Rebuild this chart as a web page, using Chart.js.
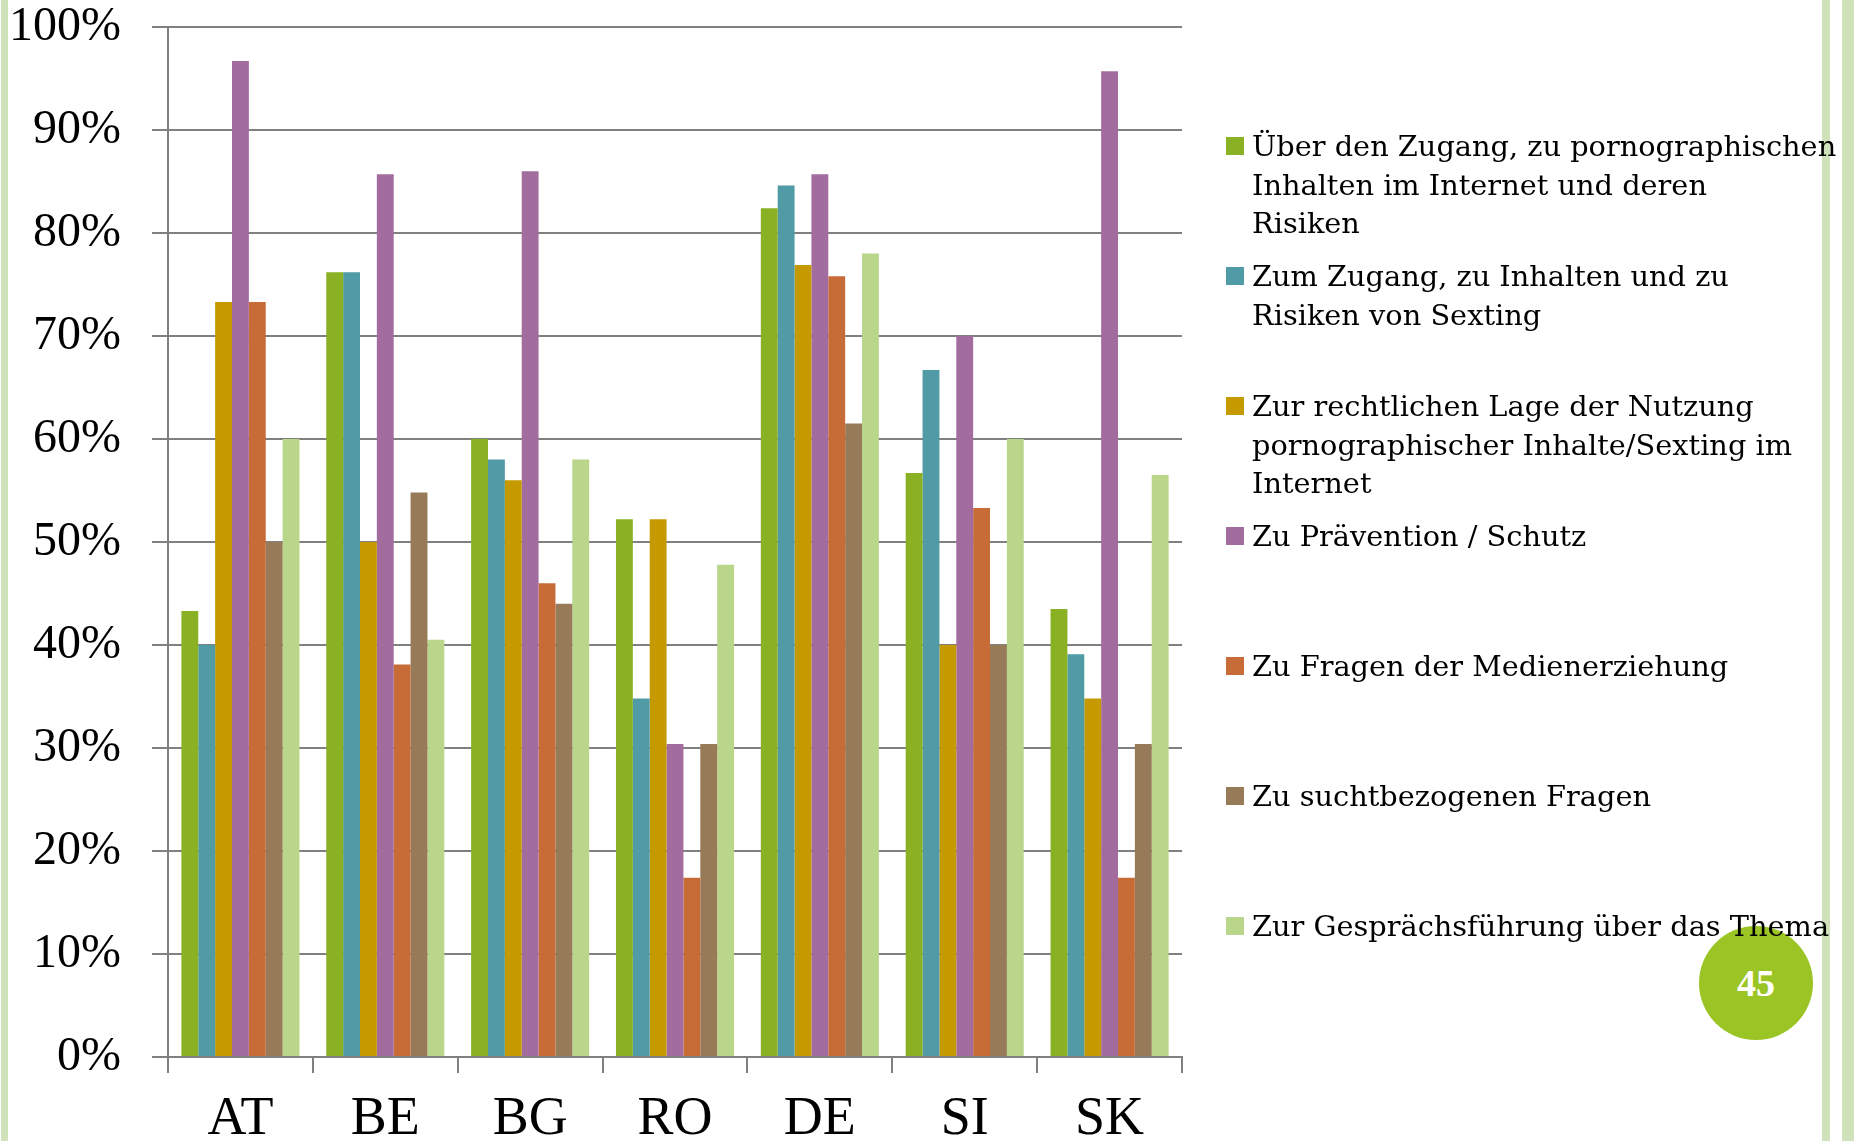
<!DOCTYPE html>
<html>
<head>
<meta charset="utf-8">
<script src="https://cdn.jsdelivr.net/npm/chart.js@4.4.1/dist/chart.umd.min.js"></script>
<style>
  html, body { margin:0; padding:0; background:#fff; }
  body { width:1854px; height:1141px; overflow:hidden; position:relative; }
  .stripe { position:absolute; top:0; height:1141px; background:#cfe2b9; }
  #chart { position:absolute; left:0; top:0; }
  #pagenum { position:absolute; left:1699px; top:926px; width:114px; height:114px; border-radius:50%;
             background:#9bc524; color:#fff; font-family:"Liberation Serif"; font-weight:bold; font-size:38px;
             line-height:114px; text-align:center; }
  #legend { position:absolute; left:0; top:0; }
  .li { position:absolute; left:1226px; font-family:"DejaVu Serif"; font-size:28.8px; line-height:38.5px;
        color:#000; white-space:nowrap; }
  .li .sw { position:absolute; left:0; top:10px; width:18px; height:18px; }
  .li .tx { margin-left:26px; }
</style>
</head>
<body>
<div class="stripe" style="left:1px;width:7px;"></div>
<div class="stripe" style="left:1822px;width:8px;"></div>
<div class="stripe" style="left:1842px;width:12px;"></div>
<canvas id="chart" width="1854" height="1141"></canvas>
<div id="pagenum">45</div>
<div id="legend"></div>
<script>
const categories = ["AT", "BE", "BG", "RO", "DE", "SI", "SK"];

const zugangPorno   = [43.3, 76.2, 60.0, 52.2, 82.4, 56.7, 43.5];
const sexting       = [40.0, 76.2, 58.0, 34.8, 84.6, 66.7, 39.1];
const rechtlich     = [73.3, 50.0, 56.0, 52.2, 76.9, 40.0, 34.8];
const praevention   = [96.7, 85.7, 86.0, 30.4, 85.7, 70.0, 95.7];
const medien        = [73.3, 38.1, 46.0, 17.4, 75.8, 53.3, 17.4];
const sucht         = [50.0, 54.8, 44.0, 30.4, 61.5, 40.0, 30.4];
const gespraech     = [60.0, 40.5, 58.0, 47.8, 78.0, 60.0, 56.5];

const seriesLines = [
  ["Über den Zugang, zu pornographischen", "Inhalten im Internet und deren", "Risiken"],
  ["Zum Zugang, zu Inhalten und zu", "Risiken von Sexting"],
  ["Zur rechtlichen Lage der Nutzung", "pornographischer Inhalte/Sexting im", "Internet"],
  ["Zu Prävention / Schutz"],
  ["Zu Fragen der Medienerziehung"],
  ["Zu suchtbezogenen Fragen"],
  ["Zur Gesprächsführung über das Thema"]
];
const seriesValues = [zugangPorno, sexting, rechtlich, praevention, medien, sucht, gespraech];
const colors = ["#8ab124", "#509ba5", "#c49a00", "#a26c9e", "#c76b37", "#977b59", "#b9d68a"];

const tickValues = [0,10,20,30,40,50,60,70,80,90,100];

const datasets = seriesValues.map((vals, i) => ({
  label: seriesLines[i].join(" "),
  data: vals,
  backgroundColor: colors[i],
  borderWidth: 0,
  categoryPercentage: 0.815,
  barPercentage: 1.0
}));

const chart = new Chart(document.getElementById("chart"), {
  type: "bar",
  data: { labels: categories, datasets },
  options: {
    responsive: false,
    animation: false,
    devicePixelRatio: 1,
    layout: { padding: { left: 0, top: 27, right: 672, bottom: 0 } },
    plugins: { legend: { display: false }, tooltip: { enabled: false } },
    scales: {
      x: {
        grid: { display: true, drawOnChartArea: false, drawTicks: true, tickLength: 16,
                color: "#808080", lineWidth: 2, offset: true },
        border: { display: true, color: "#808080", width: 2 },
        ticks: { font: { family: "Liberation Serif", size: 54, lineHeight: 1 }, color: "#000", padding: 20 },
        afterFit(s) { s.height = 84; s.paddingLeft = 0; s.paddingRight = 0; }
      },
      y: {
        min: 0, max: 100,
        afterBuildTicks(s) { s.ticks = tickValues.map(v => ({ value: v })); },
        ticks: { callback: v => v + "%", font: { family: "Liberation Serif", size: 48, lineHeight: 1 },
                 color: "#000", padding: 31 },
        grid: { color: "#808080", lineWidth: 2, tickLength: 16 },
        border: { color: "#808080", width: 2 },
        afterFit(s) { s.width = 168; s.paddingTop = 0; s.paddingBottom = 0; }
      }
    }
  }
});

// Legend from dataset labels / colours
const legend = document.getElementById("legend");
chart.data.datasets.forEach((ds, i) => {
  const item = document.createElement("div");
  item.className = "li";
  item.style.top = (146.5 - 19.25 + i * 130) + "px";
  const sw = document.createElement("div");
  sw.className = "sw";
  sw.style.background = ds.backgroundColor;
  item.appendChild(sw);
  const tx = document.createElement("div");
  tx.className = "tx";
  seriesLines[i].forEach((line, k) => {
    if (k) tx.appendChild(document.createElement("br"));
    tx.appendChild(document.createTextNode(line));
  });
  item.appendChild(tx);
  legend.appendChild(item);
});
</script>
</body>
</html>
